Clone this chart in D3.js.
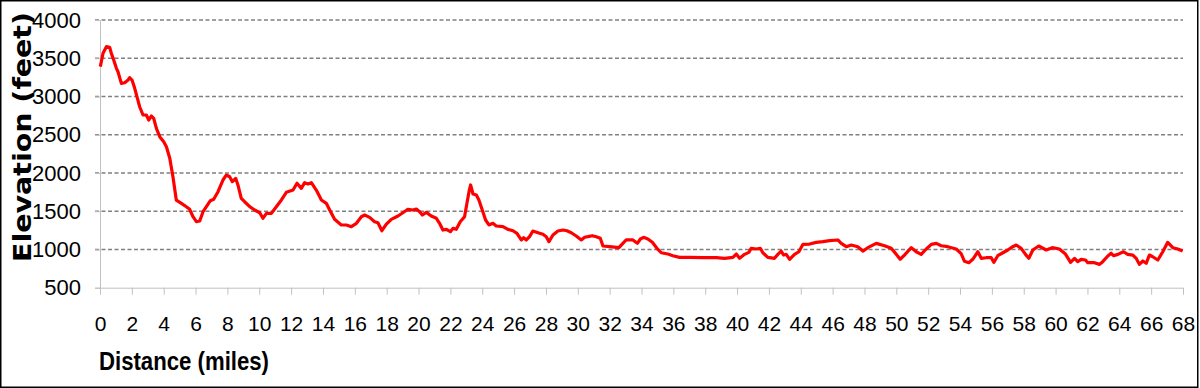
<!DOCTYPE html>
<html>
<head>
<meta charset="utf-8">
<script src="https://cdn.jsdelivr.net/npm/d3@7"></script>
<style>
  body { margin: 0; background: #fff; }
  svg { display: block; }
</style>
</head>
<body>
<div id="chart"></div>
<script>
// Elevation profile (miles, feet)
const distance = [
  0.02, 0.19, 0.4, 0.61, 0.71, 0.86, 1.03, 1.13, 1.34, 1.55, 1.76, 1.86, 2.01, 2.18, 2.35, 2.49, 2.7, 2.91, 3.06, 3.22,
  3.37, 3.54, 3.75, 4.0, 4.17, 4.38, 4.58, 4.79, 5.11, 5.42, 5.63, 5.84, 6.05, 6.26, 6.47, 6.68, 6.93, 7.14, 7.41, 7.72,
  7.93, 8.14, 8.31, 8.52, 8.66, 8.87, 9.08, 9.4, 9.71, 10.03, 10.23, 10.45, 10.76, 11.07, 11.39, 11.7, 12.12, 12.37, 12.64, 12.85,
  13.06, 13.27, 13.58, 13.9, 14.21, 14.42, 14.73, 15.15, 15.47, 15.78, 16.1, 16.41, 16.62, 16.93, 17.24, 17.45, 17.7, 17.98, 18.29, 18.71,
  19.02, 19.33, 19.65, 19.86, 20.07, 20.24, 20.49, 20.8, 21.12, 21.32, 21.53, 21.75, 22.0, 22.16, 22.37, 22.62, 22.89, 23.04, 23.17, 23.27,
  23.42, 23.63, 23.79, 24.04, 24.21, 24.42, 24.67, 24.88, 25.3, 25.61, 25.93, 26.18, 26.45, 26.6, 26.77, 26.97, 27.18, 27.5, 27.81, 28.02,
  28.19, 28.44, 28.75, 29.07, 29.32, 29.59, 29.9, 30.22, 30.43, 30.63, 30.91, 31.16, 31.41, 31.58, 32.0, 32.58, 32.83, 33.04, 33.46, 33.74,
  33.93, 34.13, 34.4, 34.68, 34.97, 35.24, 35.66, 35.97, 36.39, 37.02, 37.85, 38.69, 39.22, 39.74, 39.95, 40.16, 40.47, 40.74, 40.89, 41.21,
  41.46, 41.62, 41.93, 42.35, 42.56, 42.77, 42.92, 43.09, 43.3, 43.61, 43.88, 44.14, 44.55, 44.97, 45.39, 45.81, 46.33, 46.54, 46.86, 47.17,
  47.58, 47.9, 48.21, 48.74, 49.26, 49.68, 50.0, 50.24, 50.51, 50.94, 51.25, 51.56, 51.88, 52.2, 52.51, 52.82, 53.23, 53.76, 54.07, 54.28,
  54.55, 54.8, 55.12, 55.33, 55.64, 55.96, 56.12, 56.37, 56.69, 57.0, 57.31, 57.53, 57.84, 58.11, 58.32, 58.57, 58.94, 59.41, 59.79, 60.24,
  60.62, 60.94, 61.19, 61.39, 61.61, 61.88, 62.02, 62.44, 62.76, 62.96, 63.28, 63.49, 63.64, 63.91, 64.26, 64.53, 64.85, 65.06, 65.26, 65.48,
  65.69, 65.89, 66.1, 66.42, 66.73, 67.04, 67.36, 67.67, 67.98
];
const elevation = [
  3390, 3565, 3651, 3643, 3565, 3477, 3368, 3324, 3172, 3180, 3215, 3246, 3215, 3107, 2976, 2866, 2758, 2758, 2692, 2745,
  2715, 2584, 2475, 2409, 2343, 2192, 1951, 1646, 1603, 1559, 1525, 1428, 1363, 1372, 1494, 1559, 1637, 1656, 1755, 1908,
  1973, 1951, 1886, 1930, 1843, 1669, 1624, 1559, 1516, 1480, 1407, 1472, 1472, 1559, 1647, 1747, 1777, 1865, 1799, 1873,
  1856, 1873, 1777, 1647, 1603, 1516, 1394, 1320, 1320, 1298, 1342, 1428, 1450, 1420, 1363, 1350, 1245, 1330, 1394, 1437,
  1480, 1525, 1516, 1529, 1494, 1450, 1485, 1437, 1407, 1342, 1254, 1263, 1232, 1276, 1263, 1363, 1428, 1603, 1755, 1843,
  1725, 1712, 1647, 1494, 1385, 1320, 1342, 1307, 1298, 1263, 1245, 1211, 1124, 1154, 1124, 1167, 1241, 1219, 1198, 1167,
  1102, 1189, 1241, 1254, 1245, 1219, 1176, 1124, 1159, 1167, 1180, 1167, 1146, 1045, 1036, 1023, 1080, 1124, 1124, 1080,
  1137, 1159, 1137, 1093, 1015, 957, 940, 918, 897, 897, 892, 892, 884, 897, 940, 884, 936, 962, 1015, 1006,
  1015, 957, 897, 884, 936, 979, 927, 936, 871, 936, 970, 1067, 1071, 1093, 1102, 1115, 1124, 1080, 1036, 1058,
  1036, 979, 1023, 1080, 1049, 1015, 936, 871, 927, 1023, 970, 936, 1006, 1067, 1080, 1049, 1036, 1006, 945, 845,
  827, 871, 970, 884, 892, 892, 832, 918, 957, 993, 1036, 1058, 1015, 936, 884, 993, 1045, 993, 1023, 1006,
  940, 832, 884, 840, 871, 862, 827, 827, 805, 840, 914, 950, 918, 936, 970, 936, 927, 884, 805, 849,
  819, 927, 905, 862, 970, 1093, 1023, 1006, 979
];
const xTicks = d3.range(0, 69, 2);
const yTicks = [500, 1000, 1500, 2000, 2500, 3000, 3500, 4000];

const margin = { top: 20, right: 17, bottom: 100, left: 100 };
const W = 1200, H = 388;
const width = 1183 - margin.left;
const height = 287.7 - margin.top;
const tickFont = "'Liberation Sans Narrow', 'Liberation Sans', Arial, sans-serif";

const svg = d3.select("#chart")
    .append("svg")
    .attr("width", W)
    .attr("height", H);

// outer frame
svg.append("rect")
    .attr("x", 0.75).attr("y", 0.75)
    .attr("width", W - 3).attr("height", H - 1.5)
    .attr("fill", "none")
    .attr("stroke", "#000")
    .attr("stroke-width", 1.5);

const g = svg.append("g")
    .attr("transform", `translate(${margin.left},${margin.top})`);

const xScale = d3.scaleLinear().domain([0, 68]).range([0, width]);
const yScale = d3.scaleLinear().domain([500, 4000]).range([height, 0]);

// dashed gridlines
g.append("g")
    .selectAll("line")
    .data(yTicks.filter(d => d > 500))
    .join("line")
    .attr("x1", -5).attr("x2", width)
    .attr("y1", d => yScale(d)).attr("y2", d => yScale(d))
    .attr("stroke", "#808080")
    .attr("stroke-width", 1.6)
    .attr("stroke-dasharray", "4,2.5");

// y axis
const yAxis = g.append("g")
    .call(d3.axisLeft(yScale).tickValues(yTicks).tickFormat(d3.format("d")).tickSize(5).tickPadding(14));
yAxis.select(".domain").attr("stroke", "#c0c0c0");
yAxis.selectAll(".tick line").attr("stroke", "#c0c0c0");
yAxis.selectAll("text")
    .attr("font-family", tickFont)
    .attr("font-size", 22)
    .attr("fill", "#000");

// x axis
const xAxis = g.append("g")
    .attr("transform", `translate(0,${height})`)
    .call(d3.axisBottom(xScale).tickValues(xTicks).tickSize(7).tickSizeOuter(0));
xAxis.select(".domain").attr("stroke", "#c0c0c0");
xAxis.selectAll(".tick line").attr("stroke", "#c0c0c0");
xAxis.selectAll("text")
    .attr("font-family", tickFont)
    .attr("font-size", 21)
    .attr("fill", "#000")
    .attr("y", 43)
    .attr("dy", 0);

// elevation line
const profile = distance.map((d, i) => ({ miles: d, feet: elevation[i] }));
const line = d3.line()
    .x(d => xScale(d.miles))
    .y(d => yScale(d.feet));

g.append("path")
    .datum(profile)
    .attr("fill", "none")
    .attr("stroke", "#ff0000")
    .attr("stroke-width", 3.2)
    .attr("stroke-linejoin", "round")
    .attr("d", line);

// axis titles
svg.append("text")
    .attr("x", 99).attr("y", 370)
    .attr("font-family", tickFont)
    .attr("font-weight", "bold")
    .attr("font-size", 25)
    .attr("textLength", 170)
    .attr("lengthAdjust", "spacingAndGlyphs")
    .text("Distance (miles)");

svg.append("text")
    .attr("transform", "translate(31,262) rotate(-90)")
    .attr("font-family", "'DejaVu Sans', Verdana, sans-serif")
    .attr("font-weight", "bold")
    .attr("font-size", 24)
    .attr("textLength", 250)
    .attr("lengthAdjust", "spacingAndGlyphs")
    .text("Elevation (feet)");
</script>
</body>
</html>
